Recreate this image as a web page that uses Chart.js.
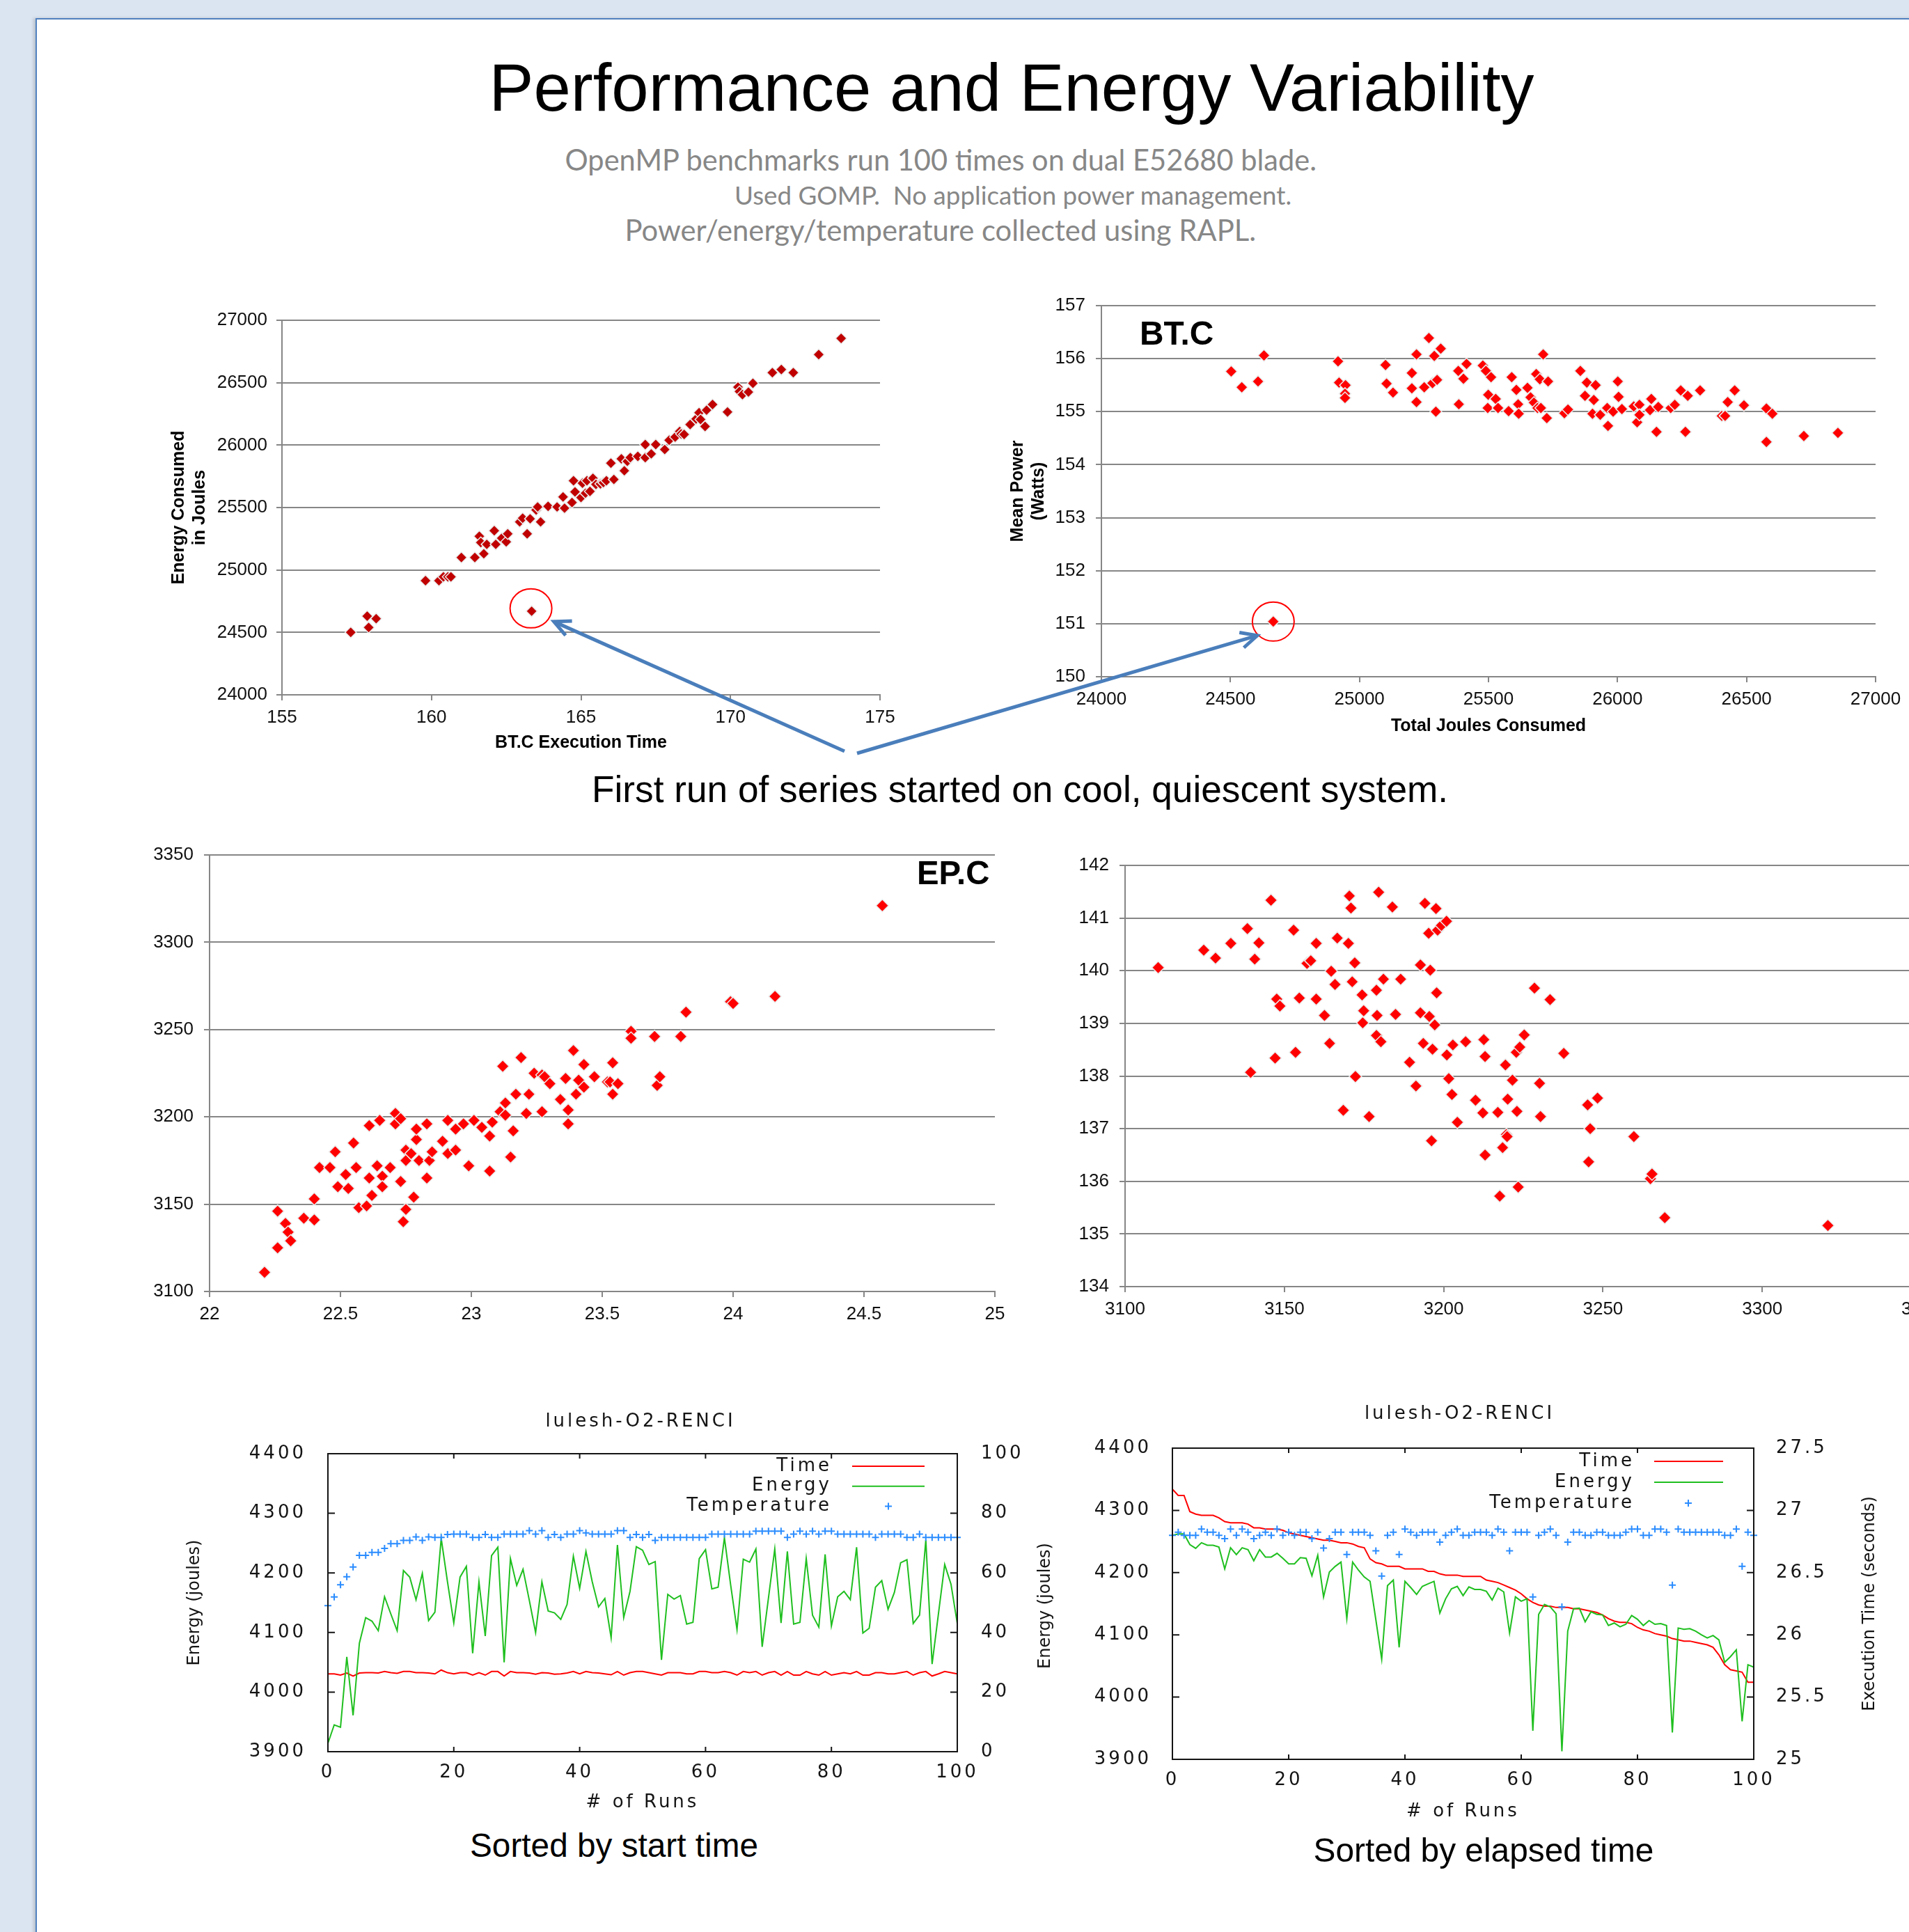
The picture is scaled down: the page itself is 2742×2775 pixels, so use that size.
<!DOCTYPE html>
<html>
<head>
<meta charset="utf-8">
<title>Performance and Energy Variability</title>
<script src="https://cdn.jsdelivr.net/npm/chart.js@4.4.1/dist/chart.umd.min.js"></script>
<style>
  html, body { margin: 0; padding: 0; width: 2742px; height: 2775px; overflow: hidden; background: #dbe5f1; }
  #slide { position: absolute; left: 51px; top: 26px; width: 2760px; height: 2800px; background: #fff;
           border-top: 2.5px solid #5181c0; border-left: 2.5px solid #5181c0; box-shadow: -3px 0 4px rgba(0,0,0,0.15); }
  canvas.chart { position: absolute; }
  .txt { position: absolute; white-space: pre; line-height: 1.2; z-index: 5; }
  #overlay { position: absolute; left: 0; top: 0; pointer-events: none; z-index: 10; }
</style>
</head>
<body>
<div id="slide"></div>
<canvas id="c1" class="chart"></canvas>
<canvas id="c2" class="chart"></canvas>
<canvas id="c3" class="chart"></canvas>
<canvas id="c4" class="chart"></canvas>
<canvas id="c5" class="chart"></canvas>
<canvas id="c6" class="chart"></canvas>
<canvas id="overlay" width="2742" height="2775"></canvas>
<script>
// ---- BT.C : execution time vs energy ----
const btTime = [157.3,157.85,157.9,158.15,159.8,160.25,160.4,160.55,160.65,161.0,
  161.45,161.75,161.6,161.65,161.85,162.1,162.15,162.35,162.5,162.55,
  162.95,163.05,163.2,163.3,163.5,163.55,163.65,163.35,163.9,164.2,
  164.4,164.45,164.7,164.75,164.8,165.0,165.05,165.15,165.2,165.3,
  165.4,165.5,165.65,165.75,165.85,166.0,166.1,166.35,166.45,166.55,
  166.65,166.9,167.15,167.15,167.35,167.5,167.8,167.95,168.15,168.3,
  168.35,168.45,168.65,168.85,168.95,169.0,169.15,169.2,169.4,169.9,
  170.25,170.3,170.4,170.6,170.75,171.4,171.7,172.1,172.95,173.7];
const btEnergy = [24500,24630,24540,24610,24915,24915,24945,24945,24945,25100,
  25100,25130,25270,25220,25205,25315,25205,25255,25225,25290,
  25385,25415,25290,25410,25480,25505,25385,24670,25510,25505,
  25585,25495,25540,25715,25625,25580,25695,25615,25715,25630,
  25735,25685,25690,25700,25715,25855,25725,25890,25795,25870,
  25900,25910,25900,26005,25930,26005,25965,26040,26065,26110,
  26090,26085,26165,26210,26260,26205,26150,26280,26325,26265,
  26465,26430,26405,26425,26495,26580,26605,26580,26725,26855];
const btFirstRun = 27;

// ---- BT.C : total joules vs mean power ----
const btJoules = [24503,24544,24607,24630,24666,24917,24921,24946,24944,24944,
  25101,25105,25130,25203,25203,25221,25221,25251,25269,25283,
  25290,25301,25296,25315,25383,25385,25403,25415,25478,25490,
  25499,25497,25510,25528,25537,25578,25590,25608,25615,25617,
  25651,25663,25676,25685,25690,25699,25703,25712,25726,25731,
  25794,25808,25856,25874,25881,25903,25908,25915,25933,25963,
  25960,25983,26001,26004,26017,26063,26076,26085,26085,26126,
  26131,26151,26158,26206,26222,26245,26263,26272,26320,26404,
  26417,26427,26454,26490,26577,26600,26577,26722,26854];
const btPower = [155.76,155.46,155.57,156.06,151.04,155.95,155.55,155.50,155.34,155.26,
  155.88,155.53,155.36,155.73,155.44,156.08,155.18,155.46,156.39,155.54,
  156.05,155.60,155.00,156.19,155.77,155.14,155.62,155.90,155.87,155.77,
  155.32,155.07,155.65,155.24,155.07,155.01,155.65,155.41,155.14,154.96,
  155.45,155.27,155.17,155.71,155.07,155.61,155.07,156.08,154.88,155.57,
  154.97,155.04,155.77,155.30,155.55,154.96,155.22,155.50,154.94,154.73,
  155.07,155.00,155.57,155.28,155.05,155.10,154.80,155.13,154.94,155.03,
  155.24,154.62,155.09,155.07,155.13,155.40,154.62,155.30,155.40,154.92,
  154.92,155.18,155.40,155.12,155.06,154.96,154.43,154.54,154.60];
const btFirstRun2 = 4;

// ---- EP.C : execution time vs energy ----
const epTime = [22.21,22.26,22.26,22.29,22.30,22.31,22.36,22.40,22.40,22.42,
  22.46,22.48,22.49,22.52,22.53,22.55,22.56,22.57,22.60,22.61,
  22.61,22.62,22.64,22.65,22.66,22.66,22.69,22.71,22.71,22.73,
  22.73,22.74,22.75,22.75,22.75,22.77,22.78,22.79,22.79,22.80,
  22.83,22.83,22.84,22.85,22.89,22.91,22.91,22.94,22.94,22.97,
  22.99,23.01,23.04,23.07,23.07,23.08,23.11,23.12,23.13,23.13,
  23.15,23.16,23.17,23.19,23.21,23.22,23.24,23.27,23.27,23.28,
  23.30,23.34,23.36,23.37,23.37,23.39,23.40,23.41,23.43,23.43,
  23.47,23.52,23.53,23.54,23.54,23.56,23.61,23.61,23.70,23.71,
  23.72,23.80,23.82,23.99,24.00,24.16,24.57];
const epEnergy = [3111,3125,3146,3139,3134,3129,3142,3141,3153,3171,
  3171,3180,3160,3167,3159,3185,3171,3148,3149,3195,
  3165,3155,3172,3198,3166,3160,3171,3202,3196,3199,
  3163,3140,3147,3181,3175,3179,3154,3187,3193,3175,
  3165,3196,3175,3180,3186,3198,3179,3193,3181,3196,
  3172,3198,3194,3189,3169,3197,3203,3229,3201,3208,
  3177,3192,3213,3234,3202,3213,3225,3203,3224,3223,
  3219,3210,3222,3204,3196,3238,3213,3221,3217,3230,
  3223,3220,3220,3213,3231,3219,3249,3245,3246,3218,
  3223,3246,3260,3266,3265,3269,3321];

// ---- EP.C : total joules vs mean power ----
const epJoules = [3110.4,3124.7,3128.4,3133.2,3138.4,3139.4,3140.7,3142.0,3145.8,3147.1,
  3147.6,3148.6,3152.9,3153.5,3154.7,3157.1,3158.3,3160.0,3160.0,3162.6,
  3164.2,3164.7,3165.9,3166.6,3168.5,3170.1,3170.4,3170.9,3171.3,3172.1,
  3172.3,3174.4,3174.6,3174.9,3176.6,3178.9,3178.9,3179.1,3179.6,3180.3,
  3181.1,3183.9,3184.9,3186.5,3189.3,3191.3,3192.7,3192.7,3193.6,3194.1,
  3195.3,3195.5,3195.8,3196.2,3196.5,3197.2,3197.6,3197.8,3198.1,3199.3,
  3200.9,3201.0,3201.6,3202.6,3202.9,3204.3,3206.9,3210.0,3212.3,3212.6,
  3213.0,3213.0,3217.0,3217.6,3218.5,3219.4,3219.7,3219.9,3220.1,3221.6,
  3222.8,3223.0,3223.4,3223.9,3225.3,3228.5,3230.1,3230.4,3233.4,3237.7,
  3245.2,3245.5,3246.0,3248.3,3259.7,3264.9,3265.4,3269.4,3320.6];
const epPower = [140.06,140.39,140.24,140.52,140.80,138.07,140.22,140.53,141.34,138.34,
  139.46,139.33,140.77,138.45,139.48,140.14,140.19,140.52,139.46,139.15,
  138.62,139.99,139.74,140.62,137.35,140.52,141.42,141.19,139.79,140.15,
  137.99,139.54,139.01,139.24,137.23,139.63,138.77,139.15,141.49,138.65,
  139.84,141.21,139.17,139.84,138.26,137.81,140.11,139.20,138.62,141.28,
  140.71,139.13,140.01,136.77,138.51,138.97,141.18,139.58,140.77,140.86,
  140.94,138.40,137.95,137.65,138.59,137.12,138.65,137.54,137.30,138.69,
  138.37,136.50,137.31,135.72,136.64,138.21,136.89,136.85,137.56,137.92,
  138.45,137.33,135.89,138.55,138.78,139.67,137.86,137.23,139.45,138.43,
  137.45,136.37,137.00,137.58,136.85,136.05,136.14,135.31,135.16];

// ---- lulesh-O2-RENCI, runs sorted by start time ----
const startTime = [26.1,26.1,25.7,26.4,25.4,26.4,26.5,26.5,26.4,26.9,
  26.5,26.3,26.9,26.9,26.5,26.5,26.4,26.1,27.4,26.5,
  26.1,26.5,26.5,25.7,26.5,25.7,26.9,26.9,25.4,26.9,
  26.5,26.5,26.4,26.0,26.5,26.4,26.0,26.1,26.4,26.9,
  26.1,26.9,26.5,26.4,26.1,25.8,26.9,25.7,26.5,26.9,
  26.9,26.5,26.1,25.7,26.5,26.5,26.5,26.1,26.1,26.9,
  26.9,26.5,26.5,26.9,26.5,25.7,26.9,26.5,26.9,25.7,
  26.5,26.9,25.7,26.9,25.7,25.7,26.9,26.1,25.7,26.9,
  25.7,26.1,26.5,26.1,26.9,25.7,25.7,26.5,26.5,26.1,
  26.1,26.5,26.9,25.7,26.5,26.9,25.4,26.1,26.9,26.5,
  26.1];
const startEnergy = [3914,3945,3941,4059,3961,4082,4125,4119,4103,4160,
  4131,4103,4204,4193,4155,4199,4120,4134,4258,4185,
  4116,4193,4211,4065,4185,4094,4229,4243,4050,4224,
  4179,4206,4154,4100,4185,4136,4133,4122,4147,4228,
  4174,4236,4185,4143,4157,4091,4247,4125,4169,4244,
  4238,4214,4219,4054,4164,4156,4162,4114,4117,4224,
  4239,4173,4176,4259,4179,4105,4223,4218,4240,4076,
  4158,4240,4116,4236,4114,4117,4224,4129,4109,4231,
  4111,4160,4169,4155,4243,4099,4107,4176,4187,4139,
  4167,4217,4222,4115,4129,4255,4047,4131,4214,4181,
  4115];
const startTemp = [49.0,51.9,56.0,58.7,62.0,65.9,65.9,66.9,66.9,68.2,
  69.8,69.8,70.9,70.9,72.1,70.9,72.1,71.9,71.9,72.9,
  73.0,73.0,73.0,71.9,71.9,72.9,71.9,71.9,73.0,73.0,
  73.0,73.0,74.2,73.0,74.2,71.9,72.9,71.9,73.0,73.0,
  74.2,73.4,73.0,73.0,73.0,73.0,74.2,74.2,71.9,72.9,
  71.9,72.9,70.9,71.9,71.9,71.9,71.9,71.9,71.9,71.9,
  71.9,73.0,73.0,73.0,73.0,73.0,73.0,73.0,74.0,74.0,
  74.0,74.0,74.0,71.9,73.0,74.0,73.0,74.0,73.0,74.0,
  74.0,73.0,73.0,73.0,73.0,73.0,73.0,71.9,73.0,73.0,
  73.0,73.0,71.9,71.9,73.0,71.9,71.9,71.9,71.9,71.9,
  71.9];

// ---- lulesh-O2-RENCI, runs sorted by elapsed time ----
const elapsedTime = [27.17,27.12,27.12,26.99,26.97,26.96,26.96,26.96,26.94,26.91,
  26.90,26.90,26.90,26.89,26.86,26.86,26.85,26.85,26.85,26.84,
  26.82,26.81,26.80,26.79,26.78,26.77,26.76,26.76,26.75,26.74,
  26.74,26.73,26.71,26.70,26.61,26.58,26.57,26.55,26.55,26.55,
  26.53,26.53,26.53,26.53,26.51,26.51,26.49,26.48,26.48,26.48,
  26.47,26.47,26.47,26.47,26.44,26.43,26.42,26.40,26.38,26.36,
  26.33,26.29,26.26,26.24,26.23,26.23,26.22,26.22,26.22,26.21,
  26.21,26.20,26.19,26.18,26.16,26.13,26.11,26.10,26.10,26.09,
  26.06,26.04,26.03,26.01,26.00,25.99,25.97,25.96,25.95,25.95,
  25.94,25.93,25.92,25.90,25.84,25.76,25.72,25.71,25.70,25.62,
  25.62];
const elapsedEnergy = [4260,4262,4262,4245,4239,4248,4244,4244,4241,4206,
  4240,4229,4240,4237,4219,4237,4225,4225,4231,4223,
  4214,4214,4224,4223,4195,4228,4161,4201,4210,4217,
  4126,4217,4204,4193,4186,4124,4061,4179,4188,4080,
  4186,4176,4165,4178,4182,4186,4135,4158,4174,4178,
  4163,4177,4173,4173,4170,4156,4175,4169,4103,4161,
  4154,4158,3946,4133,4149,4145,4134,3913,4106,4142,
  4143,4121,4137,4133,4132,4115,4119,4113,4117,4131,
  4125,4115,4123,4117,4118,4115,3943,4111,4109,4110,
  4106,4100,4095,4099,4092,4056,4065,4076,3961,4052,
  4048];
const elapsedTemp = [72.0,73.0,72.0,72.0,72.0,74.0,73.0,73.0,72.0,70.9,
  74.0,72.0,74.0,73.0,70.9,72.0,73.0,72.0,74.0,72.0,
  73.0,72.0,73.0,73.0,70.9,73.0,67.9,70.9,73.0,73.0,
  65.8,73.0,73.0,73.0,72.0,67.0,58.9,72.0,73.0,65.8,
  74.0,73.0,72.0,73.0,73.0,73.0,69.8,72.0,73.0,74.0,
  72.0,72.0,73.0,73.0,73.0,72.0,74.0,73.0,67.0,73.0,
  73.0,73.0,52.2,72.0,73.0,74.0,72.0,49.0,69.8,73.0,
  73.0,72.0,72.0,73.0,73.0,72.0,72.0,72.0,73.0,74.0,
  74.0,72.0,72.0,74.0,74.0,73.0,56.0,74.0,73.0,73.0,
  73.0,73.0,73.0,73.0,73.0,72.0,72.0,74.0,62.0,73.0,
  72.0];

// axis ranges [min, max, step]
const btTimeAxis = [155, 175, 5], btEnergyAxis = [24000, 27000, 500];
const btJoulesAxis = [24000, 27000, 500], btPowerAxis = [150, 157, 1];
const epTimeAxis = [22, 25, 0.5], epEnergyAxis = [3100, 3350, 50];
const epJoulesAxis = [3100, 3350, 50], epPowerAxis = [134, 142, 1];
const runAxis = [0, 100, 20], energyAxis = [3900, 4400, 100];
const pctAxis = [0, 100, 20], execAxis = [25, 27.5, 0.5];

const XL = '"Liberation Sans", Arial, sans-serif';
const GP = '"DejaVu Sans", sans-serif';
const GP_SPACING = '4px';
const GP_INK = '#141414';
const tickFmt = v => String(+Number(v).toFixed(2));

function makeCanvas(id, box) {
  const c = document.getElementById(id);
  c.width = box.w; c.height = box.h;
  c.style.left = box.x + 'px'; c.style.top = box.y + 'px';
  return c;
}

function xlAxis(range, o) {
  return {
    type: 'linear', position: o.position, min: range[0], max: range[1],
    ticks: { stepSize: range[2], autoSkip: false, maxRotation: 0, padding: o.pad, color: '#111',
             font: { family: XL, size: 26 }, callback: tickFmt },
    grid: { color: '#868686', lineWidth: 2, tickLength: 8, drawOnChartArea: o.position === 'left' },
    border: { display: true, color: '#868686', width: 2 },
    title: o.title ? { display: true, text: o.title, color: '#000',
                       font: { family: XL, size: 25, weight: 'bold', lineHeight: 1.2 }, padding: o.titlePad }
                   : { display: false },
    afterFit: s => { if (o.position === 'left') s.width = o.fit; else s.height = o.fit; }
  };
}

function xlScatter(id, box, plot, xs, ys, color, radius, xo, yo) {
  const canvas = makeCanvas(id, box);
  const pts = xs.map((x, i) => ({ x: x, y: ys[i] }));
  return new Chart(canvas, {
    type: 'scatter',
    data: { datasets: [{ data: pts, pointStyle: 'rectRot', pointRadius: radius,
                         pointBackgroundColor: color, pointBorderColor: '#ececec', pointBorderWidth: 1.5 }] },
    options: {
      responsive: false, animation: false, devicePixelRatio: 1,
      layout: { padding: { top: plot.top - box.y, right: box.x + box.w - plot.right, left: 0, bottom: 0 } },
      plugins: { legend: { display: false }, tooltip: { enabled: false } },
      scales: {
        x: xlAxis(xo.range, { position: 'bottom', pad: xo.pad, title: xo.title, titlePad: { top: 0, bottom: xo.titlePad },
                              fit: box.y + box.h - plot.bottom }),
        y: xlAxis(yo.range, { position: 'left', pad: yo.pad, title: yo.title, titlePad: { top: yo.titlePad, bottom: 0 },
                              fit: plot.left - box.x })
      }
    }
  });
}

// top row
const box1 = { x: 200, y: 400, w: 1110, h: 695 };
const chart1 = xlScatter('c1', box1, { left: 405, right: 1264, top: 460, bottom: 998 },
  btTime, btEnergy, '#c00000', 8,
  { range: btTimeAxis, pad: 9, title: 'BT.C Execution Time', titlePad: 13 },
  { range: btEnergyAxis, pad: 13, title: ['Energy Consumed', 'in Joules'], titlePad: 42 });

const box2 = { x: 1420, y: 395, w: 1322, h: 680 };
const chart2 = xlScatter('c2', box2, { left: 1582, right: 2694, top: 439, bottom: 972 },
  btJoules, btPower, '#ff0000', 8.5,
  { range: btJoulesAxis, pad: 9, title: 'Total Joules Consumed', titlePad: 17 },
  { range: btPowerAxis, pad: 15, title: ['Mean Power', '(Watts)'], titlePad: 27 });

// middle row
const box3 = { x: 150, y: 1180, w: 1330, h: 740 };
const chart3 = xlScatter('c3', box3, { left: 301, right: 1429, top: 1228, bottom: 1855 },
  epTime, epEnergy, '#ff0000', 9,
  { range: epTimeAxis, pad: 9 }, { range: epEnergyAxis, pad: 15 });

const box4 = { x: 1480, y: 1195, w: 1320, h: 725 };
const chart4 = xlScatter('c4', box4, { left: 1616, right: 2760, top: 1243, bottom: 1848 },
  epJoules, epPower, '#ff0000', 9,
  { range: epJoulesAxis, pad: 9 }, { range: epPowerAxis, pad: 15 });

// gnuplot style decorations: frame, inward ticks, title, key, vertical titles
function gnuplotDecor(o) {
  return {
    id: 'gnuplotDecor',
    beforeUpdate(chart) { chart.ctx.letterSpacing = GP_SPACING; },
    beforeDraw(chart) { chart.ctx.letterSpacing = GP_SPACING; },
    afterDatasetsDraw(chart) {
      const ctx = chart.ctx, a = chart.chartArea, s = chart.scales;
      ctx.save();
      ctx.strokeStyle = GP_INK; ctx.lineWidth = 2;
      ctx.strokeRect(a.left, a.top, a.right - a.left, a.bottom - a.top);
      ctx.beginPath();
      s.x.ticks.forEach(t => {
        const p = s.x.getPixelForValue(t.value);
        ctx.moveTo(p, a.bottom); ctx.lineTo(p, a.bottom - 7);
        ctx.moveTo(p, a.top); ctx.lineTo(p, a.top + 7);
      });
      s.y.ticks.forEach(t => { const p = s.y.getPixelForValue(t.value); ctx.moveTo(a.left, p); ctx.lineTo(a.left + 10, p); });
      s.y2.ticks.forEach(t => { const p = s.y2.getPixelForValue(t.value); ctx.moveTo(a.right, p); ctx.lineTo(a.right - 10, p); });
      ctx.stroke();

      ctx.fillStyle = GP_INK;
      ctx.font = '26px ' + GP;
      ctx.textBaseline = 'middle';
      ctx.textAlign = 'center';
      ctx.fillText(o.title, (a.left + a.right) / 2 + o.titleShift, o.titleY);

      chart.data.datasets.forEach((ds, i) => {
        const y = a.top + o.keyTop + i * o.keyGap;
        ctx.textAlign = 'right';
        ctx.fillText(ds.label, a.right - o.keyText, y);
        ctx.strokeStyle = ds.borderColor; ctx.lineWidth = 2;
        ctx.beginPath();
        if (ds.showLine === false) {
          const cx = a.right - o.keyMark;
          ctx.moveTo(cx - 5, y); ctx.lineTo(cx + 5, y);
          ctx.moveTo(cx, y - 5); ctx.lineTo(cx, y + 5);
        } else {
          ctx.moveTo(a.right - o.keyStart, y); ctx.lineTo(a.right - o.keyEnd, y);
        }
        ctx.stroke();
      });

      ctx.letterSpacing = '0px';
      ctx.font = '24px ' + GP;
      ctx.textAlign = 'center';
      o.yTitles.forEach(t => {
        ctx.save();
        ctx.translate(t.x, (a.top + a.bottom) / 2 + t.dy);
        ctx.rotate(-Math.PI / 2);
        ctx.fillText(t.text, 0, 0);
        ctx.restore();
      });
      ctx.restore();
    }
  };
}

function gpAxis(range, o) {
  return {
    type: 'linear', position: o.position, min: range[0], max: range[1], display: o.display !== false,
    ticks: { stepSize: range[2], autoSkip: false, maxRotation: 0, padding: o.pad, color: GP_INK,
             font: { family: GP, size: 26 }, callback: tickFmt },
    grid: { display: false, drawTicks: false },
    border: { display: false },
    title: o.title ? { display: true, text: o.title, color: GP_INK, font: { family: GP, size: 26, lineHeight: 1.2 },
                       padding: { top: 0, bottom: o.titlePad } } : { display: false },
    afterFit: s => { if (o.position === 'bottom') s.height = o.fit; else s.width = o.fit; }
  };
}

function series(label, values, axis, color, order, marks) {
  const ds = { label: label, data: values.map((v, i) => ({ x: i, y: v })), yAxisID: axis,
               borderColor: color, backgroundColor: color, borderWidth: 2, order: order, tension: 0 };
  if (marks) Object.assign(ds, { showLine: false, pointStyle: 'cross', pointRadius: 5, pointBorderWidth: 2, clip: false });
  else Object.assign(ds, { pointRadius: 0 });
  return ds;
}

const RED = '#ff0000', GREEN = '#1fbf1f', BLUE = '#2a8cff';

// bottom left: sorted by start time
const box5 = { x: 230, y: 2000, w: 1270, h: 620 };
const plot5 = { left: 471, right: 1375, top: 2088, bottom: 2516 };
const chart5 = new Chart(makeCanvas('c5', box5), {
  type: 'line',
  data: { datasets: [
    series('Time', startTime, 'y2', RED, 3),
    series('Energy', startEnergy, 'y', GREEN, 2),
    series('Temperature', startTemp, 'y2', BLUE, 1, true)
  ] },
  options: {
    responsive: false, animation: false, devicePixelRatio: 1,
    layout: { padding: { top: plot5.top - box5.y, right: 0, left: 0, bottom: 0 } },
    plugins: { legend: { display: false }, tooltip: { enabled: false } },
    scales: {
      x: gpAxis(runAxis, { position: 'bottom', pad: 15, title: '# of Runs', titlePad: 15, fit: box5.y + box5.h - plot5.bottom }),
      y: gpAxis(energyAxis, { position: 'left', pad: 31, fit: plot5.left - box5.x }),
      y2: gpAxis(pctAxis, { position: 'right', pad: 34, fit: box5.x + box5.w - plot5.right })
    }
  },
  plugins: [gnuplotDecor({ title: 'lulesh-O2-RENCI', titleY: 42, titleShift: -3,
    keyTop: 18, keyGap: 28.7, keyText: 180, keyStart: 151, keyEnd: 47, keyMark: 99,
    yTitles: [{ text: 'Energy (joules)', x: 50, dy: 0 }] })]
});

// bottom right: sorted by elapsed time
const box6 = { x: 1470, y: 2000, w: 1272, h: 630 };
const plot6 = { left: 1684, right: 2519, top: 2080, bottom: 2527 };
const chart6 = new Chart(makeCanvas('c6', box6), {
  type: 'line',
  data: { datasets: [
    series('Time', elapsedTime, 'y2', RED, 3),
    series('Energy', elapsedEnergy, 'y', GREEN, 2),
    series('Temperature', elapsedTemp, 'y3', BLUE, 1, true)
  ] },
  options: {
    responsive: false, animation: false, devicePixelRatio: 1,
    layout: { padding: { top: plot6.top - box6.y, right: 0, left: 0, bottom: 0 } },
    plugins: { legend: { display: false }, tooltip: { enabled: false } },
    scales: {
      x: gpAxis(runAxis, { position: 'bottom', pad: 15, title: '# of Runs', titlePad: 12, fit: box6.y + box6.h - plot6.bottom }),
      y: gpAxis(energyAxis, { position: 'left', pad: 30, fit: plot6.left - box6.x }),
      y2: gpAxis(execAxis, { position: 'right', pad: 32, fit: box6.x + box6.w - plot6.right }),
      y3: gpAxis(pctAxis, { position: 'right', display: false, pad: 0, fit: 0 })
    }
  },
  plugins: [gnuplotDecor({ title: 'lulesh-O2-RENCI', titleY: 31, titleShift: -5,
    keyTop: 19, keyGap: 30, keyText: 171, keyStart: 143, keyEnd: 44, keyMark: 94,
    yTitles: [{ text: 'Energy (joules)', x: 32, dy: 3 }, { text: 'Execution Time (seconds)', x: 1216, dy: 0 }] })]
});

// slide text
const texts = [
  { text: 'Performance and Energy Variability', family: XL, size: 95, color: '#000', cx: 1453, base: 159, width: 1501 },
  { text: 'OpenMP benchmarks run 100 times on dual E52680 blade.', family: 'Lato', size: 42, color: '#878787', cx: 1351, base: 245, width: 1080 },
  { text: 'Used GOMP.  No application power management.', family: 'Lato', size: 37, color: '#878787', cx: 1455, base: 294, width: 800 },
  { text: 'Power/energy/temperature collected using RAPL.', family: 'Lato', size: 42, color: '#878787', cx: 1351, base: 346, width: 907 },
  { text: 'First run of series started on cool, quiescent system.', family: XL, size: 53, color: '#000', cx: 1465, base: 1152, width: 1230 },
  { text: 'Sorted by start time', family: XL, size: 48, color: '#000', cx: 882, base: 2667, width: 414 },
  { text: 'Sorted by elapsed time', family: XL, size: 48, color: '#000', cx: 2131, base: 2674, width: 489 },
  { text: 'BT.C', family: XL, size: 46, weight: 'bold', color: '#000', left: 1637, base: 495, width: 106 },
  { text: 'EP.C', family: XL, size: 46, weight: 'bold', color: '#000', left: 1317, base: 1270, width: 104 }
];
texts.forEach(t => {
  const el = document.createElement('div');
  el.className = 'txt';
  el.style.fontFamily = t.family;
  el.style.fontWeight = t.weight || 'normal';
  el.style.fontSize = t.size + 'px';
  el.style.color = t.color;
  el.textContent = t.text;
  const mark = document.createElement('span');
  mark.style.cssText = 'display:inline-block;width:0;height:0;vertical-align:baseline';
  el.appendChild(mark);
  document.body.appendChild(el);
  if (t.width) el.style.fontSize = (t.size * t.width / el.offsetWidth) + 'px';
  const w = el.offsetWidth, base = mark.offsetTop;
  el.style.left = (t.left !== undefined ? t.left : t.cx - w / 2) + 'px';
  el.style.top = (t.base - base) + 'px';
});

// first-run call-outs: circles around the outliers and arrows from the caption
const ov = document.getElementById('overlay').getContext('2d');
function pagePoint(chart, box, xv, yv) {
  return [box.x + chart.scales.x.getPixelForValue(xv), box.y + chart.scales.y.getPixelForValue(yv)];
}
const p1 = pagePoint(chart1, box1, btTime[btFirstRun], btEnergy[btFirstRun]);
const p2 = pagePoint(chart2, box2, btJoules[btFirstRun2], btPower[btFirstRun2]);

ov.strokeStyle = '#ff0000'; ov.lineWidth = 2;
[[p1[0] - 1, p1[1] - 4], [p2[0], p2[1]]].forEach(c => {
  ov.beginPath(); ov.ellipse(c[0], c[1], 30, 28, 0, 0, Math.PI * 2); ov.stroke();
});

function arrow(x0, y0, x1, y1) {
  const ang = Math.atan2(y1 - y0, x1 - x0), len = 26, spread = 0.45;
  ov.strokeStyle = '#4a7ebb'; ov.lineWidth = 5; ov.lineCap = 'butt'; ov.lineJoin = 'miter';
  ov.beginPath(); ov.moveTo(x0, y0); ov.lineTo(x1, y1); ov.stroke();
  ov.beginPath();
  ov.moveTo(x1 - len * Math.cos(ang - spread), y1 - len * Math.sin(ang - spread));
  ov.lineTo(x1, y1);
  ov.lineTo(x1 - len * Math.cos(ang + spread), y1 - len * Math.sin(ang + spread));
  ov.stroke();
}
arrow(1213, 1079, p1[0] + 32, p1[1] + 15);
arrow(1231, 1082, p2[0] - 23, p2[1] + 20);
</script>
</body>
</html>
